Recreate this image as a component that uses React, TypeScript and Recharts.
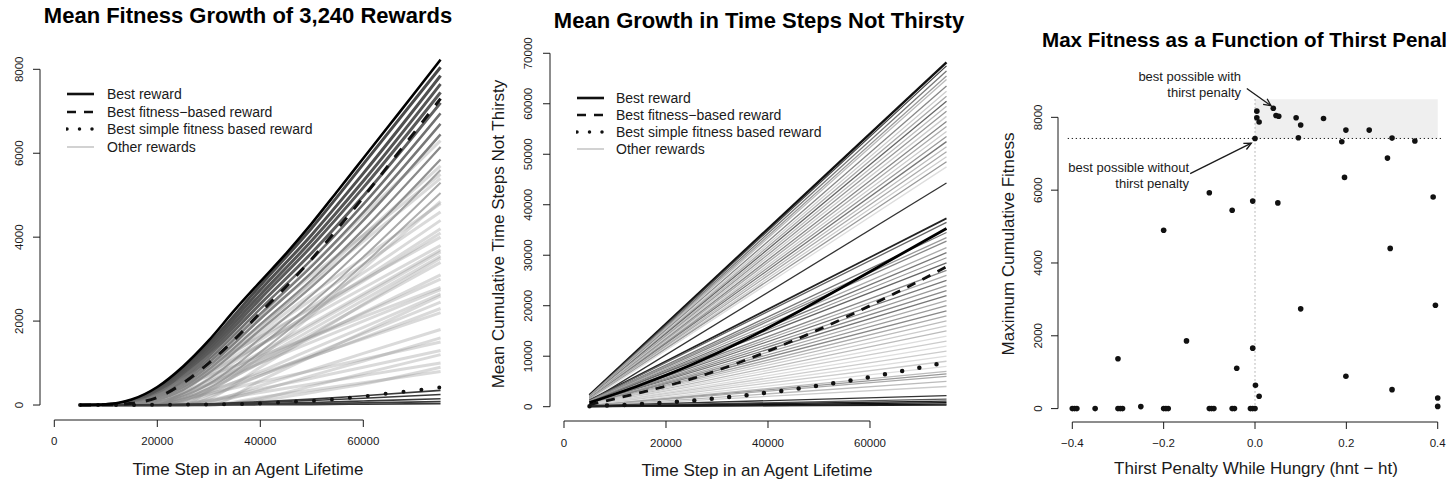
import React from 'react';
import {
  LineChart, Line, XAxis, YAxis, ReferenceLine, ReferenceArea, ScatterChart, Scatter,
} from 'recharts';

const FONT = '"Liberation Sans", Arial, Helvetica, sans-serif';
const INK = '#1a1a1a';

// ---- panel 1: mean fitness growth (x = time step) ----
const p1Steps = [5000, 10000, 15000, 20000, 25000, 30000, 35000, 40000, 45000, 50000, 55000, 60000, 65000, 70000, 75000];
const p1Best = [0, 15, 130, 430, 920, 1540, 2260, 2940, 3610, 4330, 5100, 5880, 6660, 7440, 8230];
const p1FitBased = [0, 5, 40, 180, 520, 1000, 1560, 2200, 2820, 3480, 4200, 4950, 5730, 6510, 7300];
const p1Simple = [0, 0, 0, 5, 10, 15, 20, 35, 70, 100, 145, 205, 280, 345, 420];

const p1OtherSteps = [5000, 10000, 15000, 20000, 25000, 30000, 40000, 50000, 60000, 75000];
const p1Others: number[][] = [
  [0, 12, 110, 390, 860, 1460, 2850, 4220, 5740, 8050],
  [0, 10, 100, 360, 810, 1390, 2740, 4060, 5520, 7850],
  [0, 10, 90, 330, 760, 1320, 2630, 3920, 5340, 7650],
  [0, 8, 80, 300, 710, 1250, 2530, 3790, 5180, 7450],
  [0, 8, 70, 270, 650, 1170, 2410, 3630, 4980, 7200],
  [0, 6, 60, 240, 590, 1090, 2290, 3470, 4780, 6950],
  [0, 5, 50, 210, 540, 1010, 2170, 3310, 4590, 6700],
  [0, 5, 40, 180, 480, 930, 2050, 3160, 4400, 6450],
  [0, 4, 30, 150, 420, 850, 1920, 2990, 4180, 6150],
  [0, 3, 25, 120, 360, 760, 1790, 2820, 3960, 5850],
  [0, 0, 15, 80, 270, 620, 1590, 2620, 3760, 5600],
  [0, 0, 10, 60, 210, 500, 1410, 2420, 3530, 5300],
  [0, 0, 5, 40, 160, 400, 1260, 2250, 3350, 5050],
  [0, 0, 0, 0, 300, 800, 1850, 2950, 4050, 5700],
  [0, 0, 0, 0, 360, 950, 2140, 3330, 4520, 6300],
  [0, 0, 0, 190, 670, 1160, 2120, 3090, 4050, 5500],
  [0, 0, 0, 100, 500, 950, 1900, 2900, 3900, 5400],
  [0, 0, 5, 30, 120, 330, 1150, 2150, 3250, 4850],
  [0, 0, 0, 150, 500, 900, 1750, 2650, 3500, 4800],
  [0, 0, 0, 0, 420, 840, 1670, 2510, 3350, 4600],
  [0, 0, 0, 120, 450, 800, 1550, 2350, 3150, 4400],
  [0, 0, 0, 0, 240, 630, 1420, 2220, 3010, 4200],
  [0, 0, 0, 80, 380, 720, 1450, 2200, 2950, 4100],
  [0, 0, 0, 270, 610, 950, 1630, 2300, 2980, 4000],
  [0, 0, 0, 100, 430, 770, 1440, 2110, 2790, 3800],
  [0, 0, 0, 60, 300, 600, 1250, 1950, 2650, 3700],
  [0, 0, 0, 0, 200, 500, 1200, 1900, 2600, 3650],
  [0, 0, 0, 0, 150, 450, 1100, 1800, 2500, 3550],
  [0, 0, 0, 0, 0, 150, 900, 1650, 2400, 3500],
  [0, 0, 0, 0, 0, 340, 1020, 1700, 2380, 3400],
  [0, 0, 0, 0, 100, 380, 1000, 1600, 2200, 3100],
  [0, 0, 0, 0, 270, 550, 1090, 1640, 2180, 3000],
  [0, 0, 0, 230, 470, 700, 1170, 1630, 2100, 2800],
  [0, 0, 0, 50, 250, 500, 1000, 1500, 2000, 2750],
  [0, 0, 0, 0, 80, 300, 800, 1330, 1850, 2650],
  [0, 0, 0, 0, 0, 0, 580, 1160, 1730, 2600],
  [0, 0, 0, 0, 0, 200, 700, 1200, 1700, 2450],
  [0, 0, 0, 0, 60, 250, 700, 1150, 1600, 2300],
  [0, 0, 0, 0, 120, 330, 750, 1160, 1580, 2200],
  [0, 0, 0, 0, 0, 80, 460, 840, 1230, 1800],
  [0, 0, 0, 0, 0, 50, 350, 700, 1050, 1600],
  [0, 0, 0, 0, 140, 270, 550, 820, 1090, 1500],
  [0, 0, 0, 0, 30, 120, 380, 640, 900, 1300],
  [0, 0, 0, 0, 0, 0, 150, 450, 750, 1200],
  [0, 0, 0, 0, 0, 100, 300, 500, 700, 1000],
  [0, 0, 0, 0, 0, 0, 100, 300, 500, 900],
  [0, 0, 0, 0, 0, 0, 180, 360, 530, 800],
  [0, 0, 0, 5, 15, 30, 80, 140, 220, 350],
  [0, 0, 0, 0, 10, 20, 60, 110, 160, 250],
  [0, 0, 0, 0, 5, 10, 35, 60, 95, 150],
  [0, 0, 0, 0, 0, 5, 20, 35, 50, 80],
  [0, 0, 0, 0, 0, 0, 5, 10, 20, 30],
];
const p1XTicks = [0, 20000, 40000, 60000];
const p1YTicks = [0, 2000, 4000, 6000, 8000];

// ---- panel 2: mean growth in time steps not thirsty ----
const p2Steps = [5000, 15000, 25000, 35000, 45000, 55000, 65000, 75000];
const p2Best = [800, 4300, 8300, 13000, 18300, 23900, 29600, 35300];
const p2FitBased = [400, 2800, 5500, 9000, 13100, 17600, 22500, 27700];
const p2Simple = [100, 500, 1200, 2200, 3450, 5000, 6800, 8800];

const p2OtherSteps = [5000, 75000];
const p2OtherStart = [
  2300, 2200, 2100, 2100, 2000, 2000, 1900, 1900, 1900, 1800, 1800, 1800, 1700, 1700, 1600, 1600, 1600, 1500, 1500, 1400, 1400, 1300, 1000,
  1300, 1200, 1100, 1100, 1000, 1000, 900, 900, 900, 800, 800, 800, 700, 700, 700, 600, 600, 600, 500, 500, 500, 400, 400, 400, 300, 300, 300, 300, 200, 200, 200, 200, 100, 100,
  200, 100, 100, 0, 0, 0,
];
const p2OtherEnd = [
  68200, 67500, 66500, 65500, 64800, 63500, 62500, 61500, 60500, 59500, 58500, 57500, 56500, 55500, 54500, 53500, 52500, 51500, 50500, 49500, 48500, 47500, 44300,
  37300, 36500, 34500, 33500, 32800, 31500, 30500, 29500, 28500, 27000, 26000, 25000, 24000, 23000, 22000, 21000, 20000, 19000, 18000, 17000, 16000, 15000, 14000, 13000, 12000, 11000, 10000, 9000, 8000, 7000, 6500, 6000, 5000, 4000,
  2200, 1500, 1100, 800, 500, 300,
];
const p2XTicks = [0, 20000, 40000, 60000];
const p2YTicks = [0, 10000, 20000, 30000, 40000, 50000, 60000, 70000];

// ---- panel 3: max fitness vs thirst penalty ----
const penalty = [
  0.004, 0.004, 0.009, 0.04, 0.046, 0.052, 0.09, 0.1, 0.15, 0.199, 0.25, 0.3, 0.35, 0.19, 0.095, 0.0, 0.29, 0.196, -0.1, 0.39,
  -0.005, -0.05, 0.05, -0.2, 0.296, 0.1, 0.395, -0.15, -0.005, -0.3, -0.04, 0.199, 0.001, 0.3, 0.009, 0.4, 0.4, -0.25,
  -0.4, -0.395, -0.39, -0.35, -0.3, -0.295, -0.29, -0.2, -0.195, -0.19, -0.1, -0.095, -0.09, -0.05, -0.045, -0.01, -0.005, 0.0,
];
const maxFitness = [
  8170, 7990, 7870, 8250, 8050, 8030, 7990, 7790, 7970, 7650, 7650, 7430, 7350, 7330, 7440, 7420, 6880, 6350, 5930, 5810,
  5700, 5450, 5650, 4900, 4400, 2740, 2840, 1860, 1660, 1370, 1110, 890, 640, 520, 340, 290, 60, 55,
  0, 0, 0, 0, 0, 0, 0, 0, 0, 0, 0, 0, 0, 0, 0, 0, 0, 0,
];
const bestWithout = 7420;
const bestBandTop = 8500;
const p3XTicks = [-0.4, -0.2, 0, 0.2, 0.4];
const p3YTicks = [0, 2000, 4000, 6000, 8000];

const legendLabels = ['Best reward', 'Best fitness\u2212based reward', 'Best simple fitness based reward', 'Other rewards'];

// line looks for the "other rewards" fans
const p1Look: [string, number][] = [
  ['#4a4a4a', 3], ['#505050', 3], ['#555', 3], ['#5a5a5a', 3], ['#606060', 3],
  ['#707070', 2.5], ['#777', 2.5], ['#7e7e7e', 2.5], ['#8a8a8a', 2.2], ['#929292', 2.2],
  ['#a5a5a5', 2], ['#aaa', 2], ['#b0b0b0', 2],
];
const p2Tone = [
  '#111', '#444', '#777', '#999', '#bbb', '#888', '#ccc', '#aaa', '#666', '#bbb', '#999', '#ccc', '#888', '#aaa', '#ccc', '#999', '#777', '#bbb', '#aaa', '#ccc', '#999', '#ddd', '#333',
  '#222', '#666', '#777', '#999', '#888', '#aaa', '#777', '#999', '#666', '#888', '#aaa', '#777', '#999', '#888', '#777', '#aaa', '#999', '#888', '#aaa', '#bbb', '#ccc', '#bbb', '#ddd', '#ccc', '#ddd', '#ccc', '#ddd', '#ccc', '#ddd', '#bbb', '#999', '#aaa', '#bbb', '#ccc',
  '#333', '#555', '#222', '#111', '#111', '#222',
];

const pts = (xs: number[], ys: number[]) => xs.map((x, i) => ({ x, y: ys[i] }));
const fmtPen = (v: number) => v.toFixed(1).replace('-', '\u2212');

function XTick({ x, y, payload, fmt }: any) {
  return (
    <text x={x} y={y} dy="0.71em" textAnchor="middle" fontSize={11.5} fill={INK} fontFamily={FONT}>
      {fmt ? fmt(payload.value) : payload.value}
    </text>
  );
}

function YTick({ x, y, payload }: any) {
  return (
    <text x={x} y={y} transform={`rotate(-90 ${x} ${y})`} textAnchor="middle" fontSize={11.5} fill={INK} fontFamily={FONT}>
      {payload.value}
    </text>
  );
}

function Arrow({ x1, y1, x2, y2 }: any) {
  const a = Math.atan2(y2 - y1, x2 - x1);
  const h = 8;
  const s = Math.PI / 7;
  const p1 = `${x2 - h * Math.cos(a - s)},${y2 - h * Math.sin(a - s)}`;
  const p2 = `${x2 - h * Math.cos(a + s)},${y2 - h * Math.sin(a + s)}`;
  return (
    <g stroke={INK} strokeWidth={1.3} fill="none">
      <line x1={x1} y1={y1} x2={x2} y2={y2} />
      <polyline points={`${p1} ${x2},${y2} ${p2}`} />
    </g>
  );
}

function Txt({ x, y, size = 17, bold = false, rotate = false, left = false, children }: any) {
  const tx = left ? '0' : '-50%';
  return (
    <div
      style={{
        position: 'absolute', left: x, top: y, whiteSpace: 'pre', lineHeight: 1,
        fontSize: size, fontWeight: bold ? 700 : 400, color: bold ? '#000' : INK,
        transform: `translate(${tx},-50%)${rotate ? ' rotate(-90deg)' : ''}`,
      }}
    >
      {children}
    </div>
  );
}

function LegendBox({ y, lineX, textX, dash, dots }: any) {
  const samples = [
    { stroke: '#111', w: 2.6, da: undefined, cap: 'butt' },
    { stroke: '#111', w: 2.6, da: dash, cap: 'butt' },
    { stroke: '#111', w: 3.5, da: dots, cap: 'round' },
    { stroke: '#b4b4b4', w: 1.2, da: undefined, cap: 'butt' },
  ];
  return (
    <>
      {legendLabels.map((lab, i) => (
        <React.Fragment key={lab}>
          <svg style={{ position: 'absolute', left: lineX, top: y[i] - 4 }} width={30} height={8}>
            <line x1={1} y1={4} x2={28} y2={4} stroke={samples[i].stroke} strokeWidth={samples[i].w}
              strokeDasharray={samples[i].da} strokeLinecap={samples[i].cap as any} />
          </svg>
          <Txt x={textX} y={y[i]} size={14} left>{lab}</Txt>
        </React.Fragment>
      ))}
    </>
  );
}

const axisProps = {
  type: 'number' as const,
  allowDataOverflow: true,
  interval: 0 as const,
  axisLine: false,
  tickLine: { stroke: INK },
  tickSize: 7,
};

export default function App() {
  return (
    <div style={{ position: 'absolute', left: 0, top: 0, width: 1453, height: 486, overflow: 'hidden', background: '#fff', fontFamily: FONT }}>
      {/* panel 1 */}
      <div style={{ position: 'absolute', left: 0, top: 0 }}>
        <LineChart width={450} height={486} margin={{ top: 55, right: 5, bottom: 26, left: 10 }}>
          <XAxis {...axisProps} dataKey="x" domain={[-2777, 75864]} ticks={p1XTicks} height={40} tickMargin={10} tick={<XTick />} />
          <YAxis {...axisProps} dataKey="y" domain={[-357, 8341]} ticks={p1YTicks} width={30} tickMargin={10} tick={<YTick />} />
          <ReferenceLine segment={[{ x: 0, y: -357 }, { x: 60000, y: -357 }]} stroke={INK} ifOverflow="visible" />
          <ReferenceLine segment={[{ x: -2777, y: 0 }, { x: -2777, y: 8000 }]} stroke={INK} ifOverflow="visible" />
          {p1Others.map((ys, i) => {
            const look = p1Look[i];
            const end = ys[ys.length - 1];
            const low = end < 400;
            const stroke = look ? look[0] : low ? '#3a3a3a' : '#8c8c8c';
            const w = look ? look[1] : low ? 1.6 : 3;
            const op = look || low ? 1 : 0.32;
            return (
              <Line key={`o${i}`} data={pts(p1OtherSteps, ys)} dataKey="y" type="monotone" stroke={stroke}
                strokeWidth={w} strokeOpacity={op} dot={false} activeDot={false} isAnimationActive={false} />
            );
          })}
          <Line data={pts(p1Steps, p1Simple)} dataKey="y" type="monotone" stroke="#111" strokeWidth={4}
            strokeDasharray="0 18" strokeLinecap="round" dot={false} activeDot={false} isAnimationActive={false} />
          <Line data={pts(p1Steps, p1FitBased)} dataKey="y" type="monotone" stroke="#111" strokeWidth={3}
            strokeDasharray="11 11" dot={false} activeDot={false} isAnimationActive={false} />
          <Line data={pts(p1Steps, p1Best)} dataKey="y" type="monotone" stroke="#000" strokeWidth={2.6}
            dot={false} activeDot={false} isAnimationActive={false} />
        </LineChart>
      </div>

      {/* panel 2 */}
      <div style={{ position: 'absolute', left: 460, top: 0 }}>
        <LineChart width={500} height={486} margin={{ top: 50, right: 5, bottom: 25, left: 60 }}>
          <XAxis {...axisProps} dataKey="x" domain={[-2745, 76667]} ticks={p2XTicks} height={40} tickMargin={11} tick={<XTick />} />
          <YAxis {...axisProps} dataKey="y" domain={[-2832, 70648]} ticks={p2YTicks} width={30} tickMargin={11} tick={<YTick />} />
          <ReferenceLine segment={[{ x: 0, y: -2832 }, { x: 60000, y: -2832 }]} stroke={INK} ifOverflow="visible" />
          <ReferenceLine segment={[{ x: -2745, y: 0 }, { x: -2745, y: 70000 }]} stroke={INK} ifOverflow="visible" />
          {p2OtherStart.map((s, i) => (
            <Line key={`q${i}`} data={pts(p2OtherSteps, [s, p2OtherEnd[i]])} dataKey="y" type="linear"
              stroke={p2Tone[i]} strokeWidth={i === 0 ? 2.4 : i === 23 ? 1.7 : 1.3}
              dot={false} activeDot={false} isAnimationActive={false} />
          ))}
          <Line data={pts(p2Steps, p2Simple)} dataKey="y" type="monotone" stroke="#111" strokeWidth={4.5}
            strokeDasharray="0 17.5" strokeLinecap="round" dot={false} activeDot={false} isAnimationActive={false} />
          <Line data={pts(p2Steps, p2FitBased)} dataKey="y" type="monotone" stroke="#111" strokeWidth={2.8}
            strokeDasharray="9 8" dot={false} activeDot={false} isAnimationActive={false} />
          <Line data={pts(p2Steps, p2Best)} dataKey="y" type="monotone" stroke="#000" strokeWidth={2.8}
            dot={false} activeDot={false} isAnimationActive={false} />
        </LineChart>
      </div>

      {/* panel 3 */}
      <div style={{ position: 'absolute', left: 980, top: 0 }}>
        <ScatterChart width={473} height={486} margin={{ top: 60, right: 3, bottom: 24, left: 48 }}>
          <XAxis {...axisProps} dataKey="x" domain={[-0.4313, 0.4269]} ticks={p3XTicks} height={40} tickMargin={10} tick={<XTick fmt={fmtPen} />} />
          <YAxis {...axisProps} dataKey="y" domain={[-368, 9575]} ticks={p3YTicks} width={30} tickMargin={9} tick={<YTick />} />
          <ReferenceArea x1={0} x2={0.4} y1={bestWithout} y2={bestBandTop} fill="#efefef" fillOpacity={1} stroke="none" ifOverflow="visible" />
          <ReferenceLine segment={[{ x: -0.4, y: -368 }, { x: 0.4, y: -368 }]} stroke={INK} ifOverflow="visible" />
          <ReferenceLine segment={[{ x: -0.4313, y: 0 }, { x: -0.4313, y: 8000 }]} stroke={INK} ifOverflow="visible" />
          <ReferenceLine segment={[{ x: -0.41, y: bestWithout }, { x: 0.41, y: bestWithout }]} stroke="#222" strokeDasharray="1.3 2.7" ifOverflow="visible" />
          <ReferenceLine segment={[{ x: 0, y: 0 }, { x: 0, y: bestBandTop }]} stroke="#999" strokeDasharray="1.3 2.7" ifOverflow="visible" />
          <ReferenceLine segment={[{ x: -0.018, y: 8790 }, { x: 0.035, y: 8320 }]} ifOverflow="visible" shape={(p: any) => <Arrow {...p} />} />
          <ReferenceLine segment={[{ x: -0.142, y: 6456 }, { x: -0.008, y: 7290 }]} ifOverflow="visible" shape={(p: any) => <Arrow {...p} />} />
          <Scatter data={pts(penalty, maxFitness)} isAnimationActive={false}
            shape={(p: any) => <circle cx={p.cx} cy={p.cy} r={2.8} fill="#111" />} />
        </ScatterChart>
      </div>

      {/* titles and axis titles */}
      <Txt x={248} y={16} size={22} bold>Mean Fitness Growth of 3,240 Rewards</Txt>
      <Txt x={759} y={21} size={22} bold>Mean Growth in Time Steps Not Thirsty</Txt>
      <Txt x={1042} y={40} size={20.6} bold left>Max Fitness as a Function of Thirst Penal</Txt>

      <Txt x={248} y={469}>Time Step in an Agent Lifetime</Txt>
      <Txt x={757} y={470}>Time Step in an Agent Lifetime</Txt>
      <Txt x={1256} y={468}>Thirst Penalty While Hungry (hnt {'\u2212'} ht)</Txt>
      <Txt x={498} y={234} rotate>Mean Cumulative Time Steps Not Thirsty</Txt>
      <Txt x={1008} y={244} rotate>Maximum Cumulative Fitness</Txt>

      <LegendBox y={[94, 112, 129, 147]} lineX={66} textX={107} dash="9 8" dots="0 12.5" />
      <LegendBox y={[98, 115, 132, 149]} lineX={576} textX={616} dash="9 8" dots="0 12.5" />

      <div style={{ position: 'absolute', right: 1453 - 1241, top: 69, textAlign: 'right', fontSize: 13, lineHeight: '16px', color: INK }}>
        best possible with<br />thirst penalty
      </div>
      <div style={{ position: 'absolute', right: 1453 - 1189, top: 160, textAlign: 'right', fontSize: 13, lineHeight: '16px', color: INK }}>
        best possible without<br />thirst penalty
      </div>
    </div>
  );
}
